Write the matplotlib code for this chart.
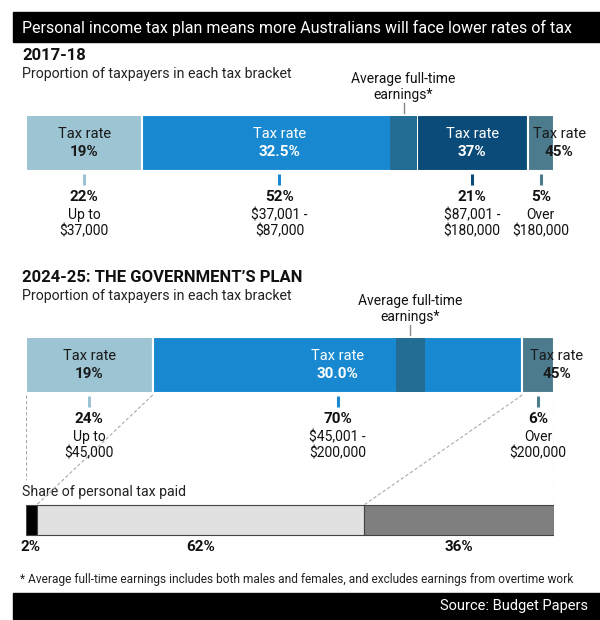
import numpy as np
import matplotlib.pyplot as plt
from matplotlib.patches import Rectangle

plt.rcParams['font.family'] = ['Roboto', 'DejaVu Sans']

# data
rates_1718 = ['19%', '32.5%', '37%', '45%']
share_1718 = [22, 52, 21, 5]
ranges_1718 = ['Up to\n$37,000', '$37,001 -\n$87,000', '$87,001 -\n$180,000', 'Over\n$180,000']
avg_band_1718 = [69, 74]

rates_2425 = ['19%', '30.0%', '45%']
share_2425 = [24, 70, 6]
ranges_2425 = ['Up to\n$45,000', '$45,001 -\n$200,000', 'Over\n$200,000']
avg_band_2425 = [70, 75.5]

tax_paid = [2, 62, 36]
tax_paid_labels = ['2%', '62%', '36%']

c1718 = ['#9cc4d2', '#1889d0', '#0a4b7a', '#4d7b8e']
c2425 = ['#9cc4d2', '#1889d0', '#4d7b8e']
txt1718 = ['#1a1a1a', 'white', 'white', '#1a1a1a']
txt2425 = ['#1a1a1a', 'white', '#1a1a1a']
c_paid = ['#000000', '#e1e1e1', '#7f7f7f']
band_col = '#236c93'

fig = plt.figure(figsize=(6, 6.2), dpi=100)
bg = fig.add_axes([0, 0, 1, 1])
bg.set_xlim(0, 600)
bg.set_ylim(620, 0)
bg.axis('off')

# title and source bars
bg.add_patch(Rectangle((13, 12), 587, 30, color='black'))
bg.text(22, 27.5, 'Personal income tax plan means more Australians will face lower rates of tax',
        color='white', fontsize=11.5, va='center', ha='left')
bg.add_patch(Rectangle((13, 593), 587, 26, color='black'))
bg.text(588, 606, 'Source: Budget Papers', color='white', fontsize=10.5, va='center', ha='right')

bg.text(22, 55, '2017-18', fontsize=12, fontweight='bold', va='center', color='#111')
bg.text(22, 74, 'Proportion of taxpayers in each tax bracket', fontsize=10.2, va='center', color='#222')
bg.text(22, 277, '2024-25: THE GOVERNMENT\u2019S PLAN', fontsize=12, fontweight='bold', va='center', color='#111')
bg.text(22, 296, 'Proportion of taxpayers in each tax bracket', fontsize=10.2, va='center', color='#222')
bg.text(22, 492, 'Share of personal tax paid', fontsize=10.2, va='center', color='#222')
bg.text(20, 579, '* Average full-time earnings includes both males and females, and excludes earnings from overtime work',
        fontsize=8.6, va='center', color='#222')

ax = fig.add_axes([26 / 600, 1 - 560 / 620, 528 / 600, 500 / 620])
ax.set_xlim(0, 100)
ax.set_ylim(560, 60)
ax.axis('off')


def bracket_bar(shares, rates, ranges, cols, tcols, band, yc):
    lefts = np.concatenate([[0], np.cumsum(shares)[:-1]])
    ax.barh(yc, shares, left=lefts, height=56, color=cols, edgecolor='white', linewidth=1.5)
    ax.barh(yc, band[1] - band[0], left=band[0], height=54, color=band_col, linewidth=0)
    mid = (band[0] + band[1]) / 2
    ax.plot([mid, mid], [yc - 40, yc - 30], color='#888', lw=1)
    ax.text(mid, yc - 56, 'Average full-time\nearnings*', ha='center', va='center',
            fontsize=10, linespacing=1.1, color='#111')
    for i, (l, w) in enumerate(zip(lefts, shares)):
        cx = l + w / 2
        tx = cx + 3.5 if i == len(shares) - 1 else cx
        ax.text(tx, yc - 9, 'Tax rate', ha='center', va='center', fontsize=10.5, color=tcols[i])
        ax.text(tx, yc + 9, rates[i], ha='center', va='center', fontsize=11, fontweight='bold', color=tcols[i])
        ax.plot([cx, cx], [yc + 31, yc + 42], color=cols[i], lw=2.2, solid_capstyle='butt')
        ax.text(cx, yc + 54, f'{w}%', ha='center', va='center', fontsize=11, fontweight='bold', color='#111')
        ax.text(cx, yc + 80, ranges[i], ha='center', va='center', fontsize=10,
                linespacing=1.15, color='#111')
    return lefts


bracket_bar(share_1718, rates_1718, ranges_1718, c1718, txt1718, avg_band_1718, 143)
lefts2 = bracket_bar(share_2425, rates_2425, ranges_2425, c2425, txt2425, avg_band_2425, 365)

# share of tax paid
plefts = np.concatenate([[0], np.cumsum(tax_paid)[:-1]])
ax.barh(520, tax_paid, left=plefts, height=30, color=c_paid, edgecolor='#444', linewidth=0.8)
for i, (l, w) in enumerate(zip(plefts, tax_paid)):
    if i == 0:
        ax.text(l - 1, 547, tax_paid_labels[i], ha='left', va='center', fontsize=11, fontweight='bold', color='#111')
    else:
        ax.text(l + w / 2, 547, tax_paid_labels[i], ha='center', va='center', fontsize=11,
                fontweight='bold', color='#111')

# dashed connectors
dash = dict(color='#aaaaaa', lw=0.8, ls=(0, (3, 2)))
ax.plot([0, 0], [395, 480], **dash)
ax.plot([lefts2[1], plefts[1]], [395, 505], **dash)
ax.plot([lefts2[2], plefts[2]], [395, 505], **dash)
ax.plot([100, 100], [395, 505], **dash)

fig.savefig('out.png', dpi=100)
